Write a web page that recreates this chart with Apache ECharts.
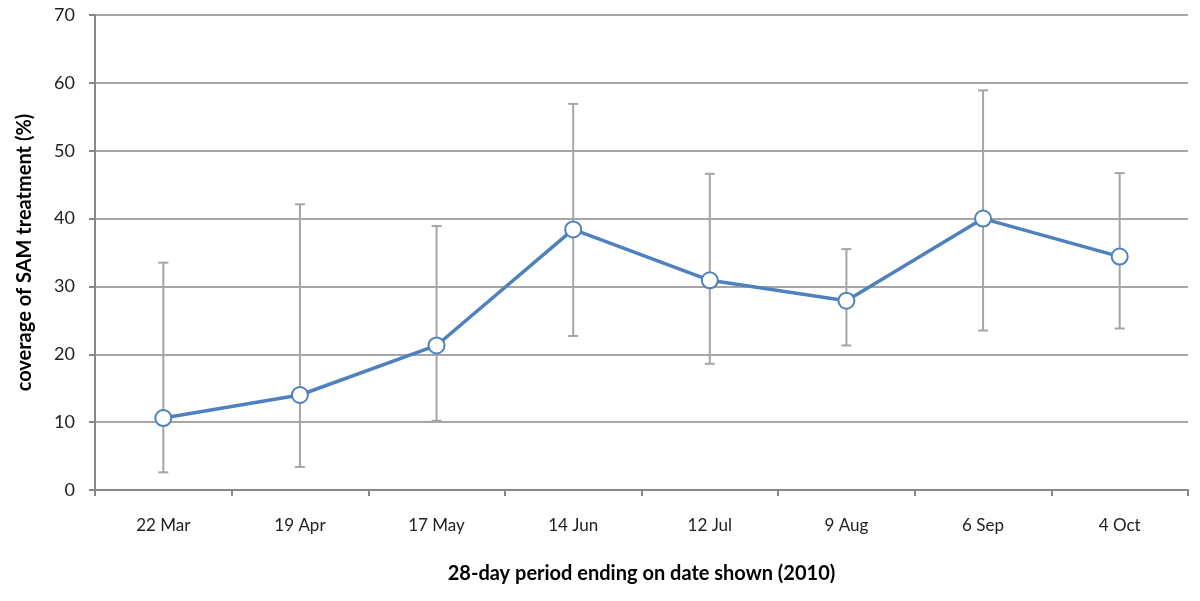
<!DOCTYPE html>
<html>
<head>
<meta charset="utf-8">
<script src="https://cdn.jsdelivr.net/npm/echarts@6/dist/echarts.min.js"></script>
<style>
  html, body { margin: 0; padding: 0; background: #fff; }
  #chart { width: 1200px; height: 601px; }
</style>
</head>
<body>
<div id="chart"></div>
<script>
var periods = ['22 Mar', '19 Apr', '17 May', '14 Jun', '12 Jul', '9 Aug', '6 Sep', '4 Oct']
var coverage = [10.6, 14.0, 21.3, 38.4, 30.9, 27.9, 40.0, 34.4]
var lowerCI = [2.6, 3.4, 10.2, 22.7, 18.6, 21.3, 23.5, 23.8]
var upperCI = [33.5, 42.1, 38.9, 56.9, 46.6, 35.5, 58.9, 46.7]

var myChart = echarts.init(document.getElementById('chart'))

// error bars: [category index, low, high]
var errData = periods.map(function (p, i) {
  return [i, lowerCI[i], upperCI[i]]
})

var option = {
  animation: false,
  textStyle: { fontFamily: 'Lato' },
  grid: { left: 95, right: 12, top: 15, bottom: 111 },
  xAxis: {
    type: 'category',
    data: periods,
    boundaryGap: true,
    name: '28-day period ending on date shown (2010)',
    nameLocation: 'middle',
    nameGap: 74,
    nameTextStyle: { fontSize: 20, fontWeight: 'bold', color: '#000' },
    axisLine: { lineStyle: { color: '#868686', width: 2 } },
    axisTick: { show: true, length: 6, lineStyle: { color: '#868686', width: 2 }, alignWithLabel: false },
    axisLabel: { fontSize: 17, color: '#222', margin: 27 },
    splitLine: { show: false }
  },
  yAxis: {
    type: 'value',
    min: 0,
    max: 70,
    interval: 10,
    name: 'coverage of SAM treatment (%)',
    nameLocation: 'middle',
    nameGap: 60,
    nameRotate: 90,
    nameTextStyle: { fontSize: 20, fontWeight: 'bold', color: '#000' },
    axisLine: { show: true, lineStyle: { color: '#868686', width: 2 } },
    axisTick: { show: true, length: 6, lineStyle: { color: '#868686', width: 2 } },
    axisLabel: { fontSize: 18, color: '#222', margin: 20 },
    splitLine: { show: true, lineStyle: { color: '#a6a6a6', width: 2 } }
  },
  series: [
    {
      type: 'custom',
      data: errData,
      z: 2,
      renderItem: function (params, api) {
        var x = api.value(0)
        var lo = api.coord([x, api.value(1)])
        var hi = api.coord([x, api.value(2)])
        var cap = 5
        var style = { stroke: '#a5a5a5', lineWidth: 2 }
        return {
          type: 'group',
          children: [
            { type: 'line', shape: { x1: hi[0], y1: hi[1], x2: lo[0], y2: lo[1] }, style: style },
            { type: 'line', shape: { x1: hi[0] - cap, y1: hi[1], x2: hi[0] + cap, y2: hi[1] }, style: style },
            { type: 'line', shape: { x1: lo[0] - cap, y1: lo[1], x2: lo[0] + cap, y2: lo[1] }, style: style }
          ]
        }
      }
    },
    {
      type: 'line',
      data: coverage,
      z: 3,
      symbol: 'circle',
      symbolSize: 16,
      lineStyle: { color: '#4f81bd', width: 3.5 },
      itemStyle: { color: '#fff', borderColor: '#4f81bd', borderWidth: 2 }
    }
  ]
}

myChart.setOption(option)
</script>
</body>
</html>
